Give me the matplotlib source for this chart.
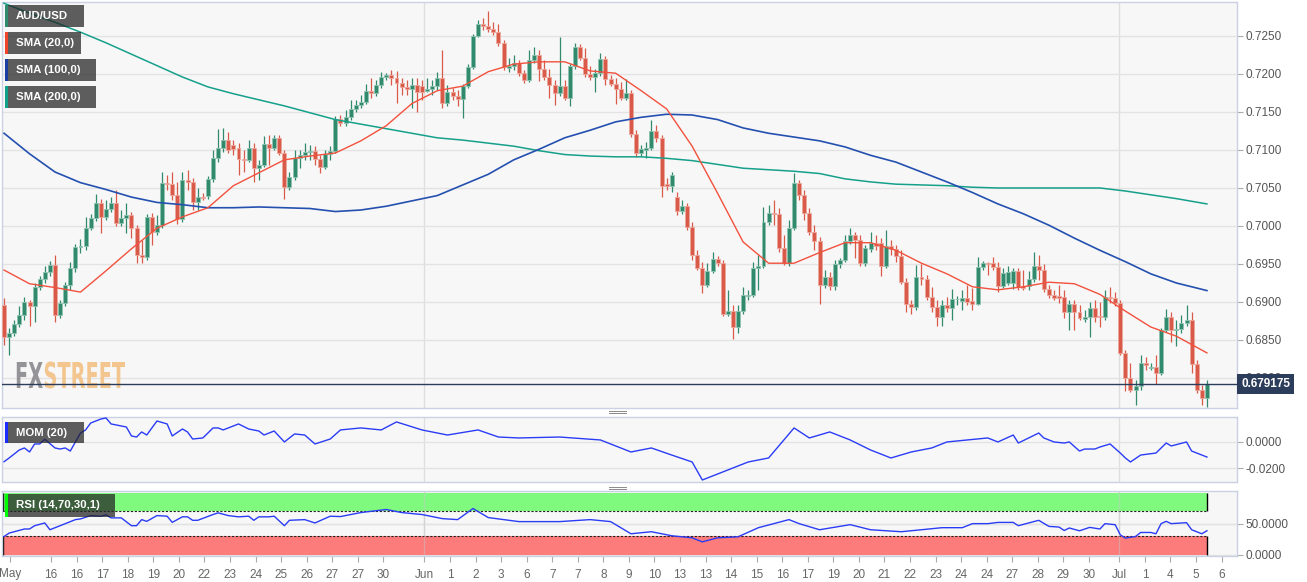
import numpy as np
import matplotlib
matplotlib.use('Agg')
import matplotlib.pyplot as plt
from matplotlib.patches import Rectangle, PathPatch
from matplotlib.lines import Line2D
from matplotlib.textpath import TextPath
from matplotlib.font_manager import FontProperties
from matplotlib.transforms import Affine2D, blended_transform_factory

plt.rcParams['font.family'] = ['Liberation Sans', 'DejaVu Sans']

# AUD/USD 4h candles
opens = [
    .6896, .6854, .6859, .6871, .6883, .6900, .6895, .6920, .6930, .6940,
    .6949, .6883, .6899, .6922, .6945, .6972, .6974, .6997, .7011, .7030,
    .7012, .7022, .7030, .7004, .7011, .7015, .6997, .6962, .6959, .7012,
    .6992, .7001, .7057, .7055, .7041, .7009, .7061, .7058, .7032, .7038,
    .7040, .7062, .7090, .7103, .7113, .7106, .7103, .7088, .7087, .7103,
    .7076, .7080, .7108, .7103, .7116, .7096, .7051, .7065, .7090, .7093,
    .7097, .7099, .7088, .7078, .7095, .7099, .7141, .7136, .7143, .7154,
    .7159, .7163, .7178, .7175, .7186, .7196, .7199, .7195, .7188, .7183,
    .7180, .7186, .7184, .7178, .7180, .7184, .7195, .7162, .7176, .7171,
    .7167, .7184, .7209, .7250, .7266, .7263, .7259, .7255, .7241, .7208,
    .7211, .7215, .7201, .7192, .7218, .7225, .7207, .7196, .7186, .7175,
    .7184, .7168, .7211, .7236, .7221, .7200, .7196, .7201, .7220, .7193,
    .7187, .7180, .7168, .7175, .7121, .7096, .7100, .7103, .7125, .7116,
    .7055, .7053, .7038, .7020, .7026, .6999, .6962, .6945, .6922, .6941,
    .6957, .6951, .6884, .6888, .6867, .6888, .6908, .6909, .6945, .6947,
    .7005, .7017, .7016, .6971, .6951, .6997, .7057, .7041, .7017, .6992,
    .6980, .6922, .6933, .6921, .6950, .6955, .6980, .6988, .6982, .6951,
    .6970, .6978, .6978, .6947, .6974, .6970, .6961, .6926, .6897, .6894,
    .6933, .6930, .6907, .6894, .6880, .6896, .6892, .6904, .6901, .6905,
    .6901, .6897, .6946, .6951, .6951, .6946, .6921, .6925, .6925, .6941,
    .6921, .6921, .6930, .6947, .6942, .6917, .6909, .6908, .6906, .6887,
    .6897, .6887, .6878, .6880, .6892, .6881, .6880, .6907, .6905, .6899,
    .6833, .6800, .6784, .6790, .6820, .6813, .6814, .6807, .6863, .6880,
    .6863, .6864, .6872, .6876, .6818, .6784, .6774]
closes = [
    .6854, .6859, .6871, .6883, .6900, .6895, .6920, .6930, .6940, .6949,
    .6883, .6899, .6922, .6945, .6972, .6974, .6997, .7011, .7030, .7012,
    .7022, .7030, .7004, .7011, .7015, .6997, .6962, .6959, .7012, .6992,
    .7001, .7057, .7055, .7041, .7009, .7061, .7058, .7032, .7038, .7037,
    .7062, .7090, .7103, .7113, .7100, .7101, .7088, .7087, .7103, .7076,
    .7080, .7108, .7103, .7116, .7096, .7051, .7065, .7090, .7093, .7097,
    .7099, .7088, .7078, .7095, .7099, .7141, .7136, .7143, .7154, .7159,
    .7163, .7178, .7175, .7186, .7196, .7199, .7195, .7188, .7183, .7180,
    .7186, .7176, .7176, .7180, .7184, .7195, .7162, .7176, .7171, .7167,
    .7184, .7209, .7250, .7266, .7263, .7259, .7255, .7241, .7209, .7211,
    .7215, .7201, .7192, .7218, .7225, .7207, .7196, .7186, .7175, .7184,
    .7168, .7211, .7236, .7221, .7200, .7196, .7201, .7220, .7193, .7187,
    .7180, .7168, .7175, .7121, .7096, .7101, .7103, .7125, .7116, .7053,
    .7053, .7067, .7020, .7026, .6999, .6962, .6945, .6922, .6941, .6957,
    .6951, .6884, .6888, .6867, .6888, .6909, .6909, .6945, .6947, .7005,
    .7017, .7016, .6971, .6951, .6997, .7057, .7041, .7017, .6992, .6980,
    .6922, .6933, .6921, .6950, .6955, .6980, .6988, .6982, .6951, .6971,
    .6978, .6974, .6947, .6974, .6970, .6961, .6926, .6897, .6894, .6933,
    .6930, .6907, .6894, .6880, .6896, .6892, .6904, .6904, .6905, .6900,
    .6897, .6946, .6951, .6950, .6946, .6921, .6938, .6940, .6941, .6920,
    .6919, .6930, .6947, .6942, .6917, .6909, .6905, .6905, .6887, .6897,
    .6887, .6879, .6880, .6892, .6880, .6880, .6907, .6905, .6899, .6833,
    .6800, .6784, .6790, .6820, .6817, .6814, .6807, .6863, .6880, .6863,
    .6864, .6872, .6876, .6818, .6784, .6774, .679175]
highs = [
    .6905, .6866, .6876, .6895, .6907, .6903, .6925, .6934, .6947, .6954,
    .6962, .6903, .6926, .6953, .6976, .6983, .7012, .7016, .7042, .7036,
    .7034, .7038, .7047, .7021, .7030, .7019, .7001, .6982, .7016, .7017,
    .7015, .7071, .7067, .7071, .7058, .7071, .7074, .7063, .7050, .7044,
    .7066, .7100, .7128, .7129, .7124, .7113, .7109, .7100, .7113, .7109,
    .7087, .7118, .7120, .7120, .7120, .7100, .7071, .7100, .7100, .7109,
    .7107, .7105, .7093, .7100, .7105, .7145, .7146, .7153, .7166, .7166,
    .7172, .7187, .7195, .7192, .7203, .7201, .7205, .7204, .7195, .7192,
    .7195, .7195, .7192, .7195, .7192, .7203, .7232, .7186, .7182, .7179,
    .7187, .7213, .7253, .7271, .7274, .7283, .7268, .7266, .7245, .7221,
    .7225, .7218, .7205, .7232, .7236, .7232, .7218, .7206, .7192, .7249,
    .7192, .7213, .7241, .7240, .7234, .7210, .7206, .7227, .7224, .7199,
    .7195, .7190, .7193, .7179, .7126, .7107, .7111, .7140, .7133, .7120,
    .7063, .7071, .7045, .7034, .7030, .7005, .6968, .6953, .6951, .6966,
    .6961, .6955, .6916, .6896, .6896, .6920, .6916, .6953, .6962, .7025,
    .7028, .7034, .7024, .6988, .7008, .7070, .7061, .7047, .7024, .7001,
    .6986, .6942, .6940, .6955, .6958, .6988, .6997, .6992, .6988, .6975,
    .6992, .6988, .6984, .6995, .6982, .6975, .6968, .6931, .6903, .6949,
    .6950, .6936, .6920, .6903, .6903, .6907, .6917, .6908, .6916, .6922,
    .6919, .6959, .6954, .6953, .6959, .6953, .6945, .6947, .6945, .6945,
    .6942, .6941, .6966, .6962, .6950, .6922, .6916, .6922, .6916, .6903,
    .6903, .6896, .6890, .6900, .6903, .6900, .6916, .6920, .6913, .6903,
    .6837, .6820, .6797, .6830, .6827, .6820, .6830, .6866, .6891, .6887,
    .6876, .6883, .6896, .6887, .6824, .6791, .6797]
lows = [
    .6843, .6830, .6855, .6867, .6876, .6868, .6874, .6916, .6925, .6934,
    .6874, .6879, .6895, .6916, .6940, .6965, .6968, .6995, .7007, .6991,
    .7008, .7019, .7000, .7000, .6991, .6984, .6951, .6951, .6955, .6975,
    .6988, .6997, .7047, .7034, .7003, .7005, .7047, .7021, .7021, .7034,
    .7035, .7058, .7084, .7097, .7096, .7093, .7067, .7071, .7084, .7058,
    .7061, .7078, .7080, .7100, .7093, .7036, .7047, .7061, .7076, .7087,
    .7087, .7080, .7070, .7075, .7087, .7096, .7132, .7132, .7140, .7150,
    .7155, .7161, .7168, .7171, .7182, .7192, .7186, .7162, .7172, .7172,
    .7155, .7150, .7166, .7176, .7172, .7179, .7155, .7158, .7166, .7158,
    .7142, .7182, .7207, .7249, .7258, .7255, .7251, .7237, .7205, .7203,
    .7205, .7197, .7188, .7190, .7215, .7191, .7192, .7168, .7159, .7171,
    .7166, .7158, .7207, .7218, .7196, .7192, .7176, .7197, .7186, .7184,
    .7161, .7166, .7166, .7117, .7091, .7092, .7090, .7100, .7111, .7038,
    .7047, .7045, .7015, .7016, .6995, .6955, .6942, .6912, .6920, .6938,
    .6947, .6882, .6882, .6851, .6859, .6884, .6903, .6907, .6916, .6945,
    .7001, .7001, .6966, .6949, .6947, .6995, .7034, .7008, .6988, .6968,
    .6897, .6918, .6916, .6916, .6945, .6953, .6976, .6958, .6947, .6947,
    .6966, .6968, .6934, .6945, .6962, .6953, .6924, .6887, .6884, .6890,
    .6922, .6903, .6887, .6868, .6868, .6887, .6876, .6896, .6890, .6896,
    .6890, .6896, .6942, .6936, .6942, .6913, .6918, .6922, .6917, .6916,
    .6916, .6916, .6926, .6929, .6913, .6905, .6903, .6899, .6879, .6863,
    .6863, .6876, .6874, .6854, .6874, .6867, .6876, .6899, .6895, .6830,
    .6783, .6782, .6765, .6784, .6811, .6811, .6792, .6804, .6861, .6847,
    .6842, .6859, .6868, .6807, .6780, .6765, .6762]
last_price = 0.679175

# moving averages, read every 5 candles
sma_idx = list(range(0, 231, 5)) + [236]
sma20 = [.6942, .6924, .6919, .6913, .6941, .6970, .6997, .7012, .7024, .7053,
         .7070, .7087, .7092, .7096, .7112, .7132, .7161, .7178, .7184, .7203,
         .7213, .7216, .7216, .7204, .7201, .7178, .7154, .7105, .7043, .6979,
         .6951, .6951, .6965, .6978, .6978, .6968, .6951, .6937, .6920, .6916,
         .6920, .6926, .6924, .6910, .6888, .6867, .6855, .6833]
sma100 = [.7122, .7095, .7071, .7057, .7048, .7038, .7031, .7028, .7024, .7024,
          .7025, .7024, .7023, .7019, .7021, .7026, .7033, .7040, .7054, .7068,
          .7087, .7101, .7116, .7126, .7137, .7143, .7147, .7146, .7140, .7129,
          .7122, .7117, .7112, .7104, .7093, .7084, .7071, .7058, .7044, .7029,
          .7016, .7001, .6984, .6968, .6953, .6937, .6925, .6915]
sma200 = [.7293, .7280, .7268, .7255, .7241, .7226, .7211, .7196, .7183, .7174,
          .7166, .7158, .7149, .7140, .7134, .7128, .7122, .7116, .7113, .7109,
          .7105, .7099, .7094, .7092, .7091, .7091, .7089, .7086, .7081, .7076,
          .7074, .7072, .7069, .7062, .7058, .7055, .7054, .7053, .7051, .7050,
          .7050, .7050, .7050, .7050, .7046, .7041, .7036, .7029]

# momentum (20)
mom_idx = [0, 1, 3, 4, 5, 6, 7, 8, 10, 11, 12, 13, 14, 15, 16, 17, 19, 20, 21, 24,
           25, 26, 27, 28, 30, 32, 33, 35, 36, 37, 39, 40, 41, 42, 43, 46, 48, 50, 51, 53,
           55, 57, 59, 61, 64, 66, 70, 74, 77, 82, 87, 93, 97, 101, 109, 117, 123, 127, 131, 135,
           137, 142, 146, 150, 155, 158, 162, 166, 170, 174, 178, 182, 185, 189, 193, 195, 198, 199,
           203, 204, 206, 208, 209, 211, 212, 214, 215, 217, 219, 220, 221, 223, 226, 228, 229,
           232, 233, 236]
mom_val = [-0.0150, -0.0122, -0.0062, -0.0047, -0.0077, -0.0017, -0.0017, 0.0018,
           -0.0047, -0.0055, -0.0047, -0.0070, -0.0002, 0.0065, 0.0088, 0.0140,
           0.0170, 0.0178, 0.0133, 0.0110, 0.0043, 0.0035, 0.0073, 0.0050,
           0.0155, 0.0133, 0.0043, 0.0095, 0.0073, 0.0020, 0.0028, 0.0065,
           0.0103, 0.0103, 0.0088, 0.0133, 0.0095, 0.0080, 0.0050, 0.0080,
           -0.0002, 0.0058, 0.0050, -0.0017, 0.0020, 0.0088, 0.0103, 0.0088,
           0.0148, 0.0088, 0.0050, 0.0088, 0.0035, 0.0028, 0.0035, 0.0013,
           -0.0077, -0.0047, -0.0100, -0.0152, -0.0287, -0.0212, -0.0152, -0.0122,
           0.0103, 0.0028, 0.0073, 0.0013, -0.0062, -0.0122, -0.0077, -0.0047,
           -0.0002, 0.0013, 0.0028, -0.0002, 0.0050, -0.0010, 0.0065, 0.0028,
           -0.0002, -0.0010, -0.0002, -0.0070, -0.0055, -0.0055, -0.0040, -0.0017,
           -0.0085, -0.0122, -0.0152, -0.0100, -0.0085, -0.0010, -0.0032, -0.0002,
           -0.0070, -0.0115]

# RSI (14)
rsi_idx = [0, 1, 4, 5, 6, 8, 9, 11, 14, 15, 17, 19, 20, 21, 23, 25, 26, 27, 28, 30,
           32, 33, 35, 36, 37, 38, 41, 42, 44, 46, 48, 49, 50, 52, 53, 55, 56, 59, 61, 64,
           66, 70, 75, 78, 82, 86, 89, 92, 95, 101, 109, 115, 119, 123, 127, 131, 135, 137,
           140, 144, 148, 154, 156, 160, 166, 170, 176, 180, 184, 188, 190, 193, 195, 198,
           199, 203, 205, 207, 208, 209, 211, 213, 215, 216, 218, 219, 220, 222, 223, 225,
           226, 227, 228, 229, 232, 233, 235, 236]
rsi_val = [29.3, 34.8, 41.4, 41.4, 46.7, 51.1, 40.2, 46.7, 56.5, 57.6, 63.0, 61.9,
           64.2, 59.3, 59.3, 46.7, 46.7, 56.5, 53.7, 63.0, 62.0, 52.1, 61.0, 61.0,
           55.4, 55.4, 64.7, 67.4, 63.0, 61.0, 62.0, 55.4, 61.0, 61.0, 62.0, 46.7,
           55.4, 56.5, 51.1, 62.0, 61.4, 67.9, 72.8, 67.9, 64.7, 58.1, 56.5, 74.4,
           59.8, 53.3, 53.3, 56.5, 53.3, 33.7, 37.0, 30.5, 27.2, 20.7, 27.2, 28.8,
           43.5, 56.5, 50.0, 40.2, 48.4, 40.2, 37.0, 40.2, 43.5, 43.5, 50.0, 50.0,
           52.0, 52.0, 46.7, 55.4, 45.6, 44.5, 39.0, 43.0, 38.5, 44.0, 41.4, 50.0,
           48.3, 32.0, 26.7, 29.3, 35.8, 35.8, 33.7, 50.0, 53.7, 50.0, 51.6, 40.2,
           33.7, 38.6]

# date axis (labels sit at fixed intervals, like the source chart)
tick_idx = [1.2, 9.16, 14.26, 19.29, 24.27, 29.29, 34.33, 39.3, 44.34, 49.38, 54.35,
            59.39, 64.29, 69.39, 74.42, 82.46, 87.5, 92.54, 97.51, 102.55, 107.57,
            112.56, 117.58, 122.62, 127.59, 132.63, 137.67, 142.63, 147.68, 152.7,
            157.68, 162.71, 167.75, 172.71, 177.75, 182.79, 187.76, 192.8, 197.82,
            202.81, 207.83, 212.87, 218.76, 223.86, 228.76, 233.8, 238.9]
tick_labels = ['May', '16', '16', '17', '18', '19', '20', '22', '23', '24', '25', '26',
               '27', '27', '30', 'Jun', '1', '2', '3', '6', '7', '7', '8', '9', '10',
               '13', '13', '14', '15', '16', '17', '19', '20', '21', '22', '23', '24',
               '24', '27', '28', '29', '30', 'Jul', '1', '4', '5', '6']
month_lines = [82.46, 218.76]

W, H = 1307, 582
fig = plt.figure(figsize=(W / 100, H / 100), dpi=100)
fig.patch.set_facecolor('white')


def px_axes(left, top, right, bottom):
    return fig.add_axes([left / W, 1 - bottom / H, (right - left) / W, (bottom - top) / H])


ax = px_axes(2, 2, 1237, 408)
ax_m = px_axes(2, 417, 1237, 482)
ax_r = px_axes(2, 491, 1237, 556)

XL = (-0.4, 241.9)
grid_c = '#e3e3e3'
border_c = '#c9d1e3'
for a in (ax, ax_m, ax_r):
    a.set_facecolor('#f7f7f7')
    a.set_xlim(*XL)
    for s in a.spines.values():
        s.set_color(border_c)
        s.set_linewidth(1)
    a.yaxis.tick_right()
    a.tick_params(axis='y', length=4, color='#aaaaaa', labelsize=8.5,
                  labelcolor='#555555', pad=2)
    a.grid(axis='y', color=grid_c, lw=1)
    a.set_axisbelow(True)
    for m in month_lines:
        a.axvline(m, color='#dedede', lw=1, zorder=0.5)

# --- candles ---
o = np.array(opens)
c = np.array(closes)
h = np.array(highs)
l = np.array(lows)
x = np.arange(len(c))
up = c >= o
body_col = np.where(up, '#318a6d', '#d95a48')
edge_col = np.where(up, '#8fc4b0', '#eda79d')
ax.vlines(x, l, h, colors=body_col, lw=0.9, zorder=3)
ax.bar(x, np.maximum(np.abs(c - o), 0.00004), bottom=np.minimum(o, c), width=0.78,
       color=body_col, edgecolor=edge_col, linewidth=0.6, zorder=4)

ax.plot(sma_idx, sma200, color='#15a08b', lw=1.1, zorder=5)
ax.plot(sma_idx, sma100, color='#2450b0', lw=1.2, zorder=5)
ax.plot(sma_idx, sma20, color='#f2513d', lw=1.0, zorder=5)

ax.axhline(last_price, color='#2b3d5b', lw=1, zorder=6)
ax.set_ylim(0.67605, 0.72947)
ax.set_yticks(np.arange(0.6800, 0.72501, 0.005))
ax.set_yticklabels(['%.4f' % v for v in np.arange(0.6800, 0.72501, 0.005)])
ax.set_xticks([])
trans = blended_transform_factory(ax.transAxes, ax.transData)
ax.text(1.0 + 4 / 1235, last_price, '%.6f' % last_price, transform=trans,
        ha='left', va='center', color='white', fontsize=8.5, fontweight='bold',
        bbox=dict(boxstyle='square,pad=0.32', fc='#2b3d5b', ec='none'),
        zorder=10, clip_on=False)

# FXSTREET watermark, squeezed to the logo box
fp = FontProperties(family='DejaVu Sans', weight='bold')
p_fx = TextPath((0, 0), 'FX', size=100, prop=fp)
p_st = TextPath((0, 0), 'STREET', size=100, prop=fp)
e_fx = p_fx.get_extents()
e_st = p_st.get_extents()
total_w = e_fx.x1 + 4 + e_st.x1
sx = 110 / total_w
sy = 26 / e_fx.height
to_fig = Affine2D().scale(1 / W, 1 / H) + fig.transFigure
for path, off, col in ((p_fx, 0, '#939398'), (p_st, e_fx.x1 + 4, '#f3c58f')):
    tr = Affine2D().translate(off, 0).scale(sx, sy).translate(15, H - 388) + to_fig
    ax.add_patch(PathPatch(path, transform=tr, fc=col, ec='none', zorder=1))

# --- momentum ---
ax_m.plot(mom_idx, mom_val, color='#2a3cf5', lw=1.0, zorder=3)
ax_m.set_ylim(-0.0302, 0.0185)
ax_m.set_yticks([-0.02, 0.0])
ax_m.set_yticklabels(['-0.0200', '0.0000'])
ax_m.set_xticks([])

# --- RSI ---
last_i = len(c) - 1
ax_r.fill_between([XL[0], last_i], 70, 100, color='#7ffa7f', lw=0, zorder=1)
ax_r.fill_between([XL[0], last_i], 0, 30, color='#fc7b7b', lw=0, zorder=1)
ax_r.hlines([70, 30], XL[0], last_i, colors='#222222', linestyles=(0, (2, 1.5)),
            lw=0.8, zorder=2)
ax_r.vlines([last_i, last_i, -0.2, -0.2], [70, 0, 70, 0], [100, 30, 100, 30],
            colors='black', lw=1, zorder=2)
for m in month_lines:
    ax_r.axvline(m, color='#c8c8c8', lw=1, alpha=0.45, zorder=2)
ax_r.axhline(50, color=grid_c, lw=1, zorder=1.5)
ax_r.plot(rsi_idx, rsi_val, color='#2a3cf5', lw=1.0, zorder=3)
ax_r.set_ylim(-2.1, 102.6)
ax_r.set_yticks([0, 50])
ax_r.set_yticklabels(['0.0000', '50.0000'])
ax_r.set_xticks(tick_idx)
ax_r.set_xticklabels(tick_labels)
ax_r.tick_params(axis='x', length=4, color='#aaaaaa', labelsize=8.5,
                 labelcolor='#666666', pad=5)


# --- legend tags ---
def tag(left, top, w, hgt, text, strip):
    fig.add_artist(Rectangle((left / W, 1 - (top + hgt) / H), w / W, hgt / H,
                             transform=fig.transFigure, fc='#222222', alpha=0.72,
                             ec='none', zorder=20))
    fig.add_artist(Rectangle((left / W, 1 - (top + hgt) / H), 2.5 / W, hgt / H,
                             transform=fig.transFigure, fc=strip, ec='none', zorder=21))
    fig.text((left + 11) / W, 1 - (top + hgt / 2) / H, text, color='white',
             fontsize=8.2, fontweight='bold', va='center', ha='left', zorder=22)


tag(5, 5, 79, 22, 'AUD/USD', '#2f8a6e')
tag(5, 32, 76, 22, 'SMA (20,0)', '#f0442c')
tag(5, 59, 91, 22, 'SMA (100,0)', '#1a3fa0')
tag(5, 86, 91, 22, 'SMA (200,0)', '#12a08a')
tag(5, 422, 79, 21, 'MOM (20)', '#1a2cff')
tag(5, 494, 110, 23, 'RSI (14,70,30,1)', '#00ff00')

# panel resize handles
for yy in (410.5, 412.5, 486.5, 488.5):
    fig.add_artist(Line2D([609 / W, 626 / W], [1 - yy / H] * 2, color='#8a8a8a',
                          lw=0.7, transform=fig.transFigure))

fig.savefig('out.png', dpi=100)
